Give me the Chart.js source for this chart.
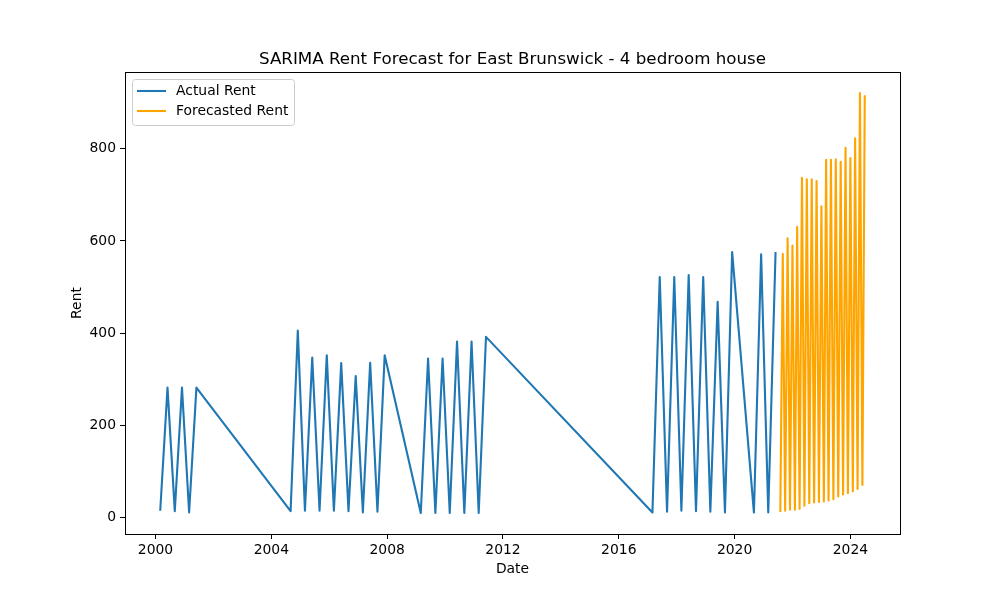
<!DOCTYPE html>
<html>
<head>
<meta charset="utf-8">
<script src="https://cdn.jsdelivr.net/npm/chart.js@4"></script>
<style>
  html, body { margin: 0; padding: 0; background: #fff; }
  #wrap { width: 1000px; height: 600px; }
</style>
</head>
<body>
<div id="wrap"><canvas id="rentChart" width="1000" height="600"></canvas></div>
<script>
// quarterly observed rent
const actualDates = [
    '2000-03-01', '2000-06-01', '2000-09-01', '2000-12-01', '2001-03-01', '2001-06-01',
    '2004-09-01', '2004-12-01', '2005-03-01', '2005-06-01', '2005-09-01', '2005-12-01',
    '2006-03-01', '2006-06-01', '2006-09-01', '2006-12-01', '2007-03-01', '2007-06-01',
    '2007-09-01', '2007-12-01', '2009-03-01', '2009-06-01', '2009-09-01', '2009-12-01',
    '2010-03-01', '2010-06-01', '2010-09-01', '2010-12-01', '2011-03-01', '2011-06-01',
    '2017-03-01', '2017-06-01', '2017-09-01', '2017-12-01', '2018-03-01', '2018-06-01',
    '2018-09-01', '2018-12-01', '2019-03-01', '2019-06-01', '2019-09-01', '2019-12-01',
    '2020-09-01', '2020-12-01', '2021-03-01', '2021-06-01'
];
const actualRent = [
    15, 282, 14, 282, 11, 282,
    14, 406, 15, 347, 15, 352,
    15, 335, 14, 307, 11, 336,
    13, 352, 10, 345, 10, 345,
    10, 382, 10, 382, 10, 392,
    11, 522, 13, 522, 15, 526,
    14, 522, 13, 468, 11, 576,
    11, 571, 11, 576
];

// monthly SARIMA forecast (month end)
const forecastDates = [
    '2021-07-31', '2021-08-31', '2021-09-30', '2021-10-31', '2021-11-30', '2021-12-31',
    '2022-01-31', '2022-02-28', '2022-03-31', '2022-04-30', '2022-05-31', '2022-06-30',
    '2022-07-31', '2022-08-31', '2022-09-30', '2022-10-31', '2022-11-30', '2022-12-31',
    '2023-01-31', '2023-02-28', '2023-03-31', '2023-04-30', '2023-05-31', '2023-06-30',
    '2023-07-31', '2023-08-31', '2023-09-30', '2023-10-31', '2023-11-30', '2023-12-31',
    '2024-01-31', '2024-02-29', '2024-03-31', '2024-04-30', '2024-05-31', '2024-06-30'
];
const forecastRent = [
    12, 572, 15, 606, 17, 590,
    17, 631, 19, 737, 26, 734,
    31, 734, 33, 730, 34, 675,
    35, 776, 37, 776, 40, 777,
    46, 772, 50, 802, 53, 780,
    57, 823, 62, 921, 71, 916
];

const xTicks = [2000, 2004, 2008, 2012, 2016, 2020, 2024];
const yTicks = [0, 200, 400, 600, 800];

const titleText = 'SARIMA Rent Forecast for East Brunswick - 4 bedroom house';
const fontFam = '"DejaVu Sans", sans-serif';

// date string -> fractional year, like matplotlib's date axis
function toYear(s) {
    const d = new Date(s + 'T00:00:00Z');
    const y = d.getUTCFullYear();
    const start = Date.UTC(y, 0, 1);
    const end = Date.UTC(y + 1, 0, 1);
    return y + (d.getTime() - start) / (end - start);
}

function toPoints(dates, values) {
    return dates.map((d, i) => ({ x: toYear(d), y: values[i] }));
}

const actualPts = toPoints(actualDates, actualRent);
const forecastPts = toPoints(forecastDates, forecastRent);

// 5% margins, same as matplotlib autoscale
const allX = actualPts.concat(forecastPts).map(p => p.x);
const allY = actualRent.concat(forecastRent);
const xMin = Math.min(...allX), xMax = Math.max(...allX);
const yMin = Math.min(...allY), yMax = Math.max(...allY);
const xPad = (xMax - xMin) * 0.05, yPad = (yMax - yMin) * 0.05;

const mplDecor = {
    id: 'mplDecor',
    afterDraw(chart) {
        const ctx = chart.ctx;
        const a = chart.chartArea;
        ctx.save();
        // axes frame
        ctx.strokeStyle = '#000';
        ctx.lineWidth = 1;
        ctx.strokeRect(Math.round(a.left) + 0.5, Math.round(a.top) + 0.5,
            Math.round(a.right - a.left), Math.round(a.bottom - a.top));

        // title
        ctx.fillStyle = '#000';
        ctx.font = '16.7px ' + fontFam;
        ctx.textAlign = 'center';
        ctx.textBaseline = 'alphabetic';
        ctx.fillText(titleText, (a.left + a.right) / 2, a.top - 8);

        // axis labels
        ctx.font = '13.9px ' + fontFam;
        ctx.textBaseline = 'middle';
        ctx.fillText('Date', (a.left + a.right) / 2, 569);
        ctx.save();
        ctx.translate(77, (a.top + a.bottom) / 2);
        ctx.rotate(-Math.PI / 2);
        ctx.fillText('Rent', 0, 0);
        ctx.restore();

        // legend box, upper left inside axes
        const bx = a.left + 7.5, by = a.top + 7.5, bw = 162, bh = 46;
        ctx.beginPath();
        ctx.roundRect(bx, by, bw, bh, 3);
        ctx.fillStyle = 'rgba(255,255,255,0.8)';
        ctx.fill();
        ctx.strokeStyle = '#cccccc';
        ctx.stroke();
        ctx.textAlign = 'left';
        chart.data.datasets.forEach((ds, i) => {
            const ly = a.top + 19 + i * 20;
            ctx.beginPath();
            ctx.moveTo(a.left + 12, ly);
            ctx.lineTo(a.left + 41, ly);
            ctx.strokeStyle = ds.borderColor;
            ctx.lineWidth = 2.1;
            ctx.stroke();
            ctx.fillStyle = '#000';
            ctx.fillText(ds.label, a.left + 51, ly);
        });
        ctx.restore();
    }
};

const ctx = document.getElementById('rentChart');
new Chart(ctx, {
    type: 'line',
    plugins: [mplDecor],
    data: {
        datasets: [
            {
                label: 'Actual Rent',
                data: actualPts,
                borderColor: '#1f77b4',
                backgroundColor: '#1f77b4',
                borderWidth: 2.1,
                borderJoinStyle: 'round',
                pointRadius: 0,
                tension: 0,
            },
            {
                label: 'Forecasted Rent',
                data: forecastPts,
                borderColor: '#ffa500',
                backgroundColor: '#ffa500',
                borderWidth: 2.1,
                borderJoinStyle: 'round',
                pointRadius: 0,
                tension: 0,
            }
        ]
    },
    options: {
        responsive: false,
        animation: false,
        devicePixelRatio: 1,
        layout: {
            padding: { top: 72, right: 100, left: 0, bottom: 0 }
        },
        plugins: {
            legend: { display: false },
            title: { display: false },
            tooltip: { enabled: false },
        },
        scales: {
            x: {
                type: 'linear',
                min: xMin - xPad,
                max: xMax + xPad,
                afterBuildTicks: (scale) => { scale.ticks = xTicks.map(v => ({ value: v })); },
                afterFit: (scale) => { scale.height = 66; },
                grid: {
                    drawOnChartArea: false,
                    drawTicks: true,
                    tickLength: 5,
                    tickColor: '#000',
                },
                border: { display: true, color: '#000' },
                ticks: {
                    color: '#000',
                    padding: 3,
                    maxRotation: 0,
                    font: { family: fontFam, size: 13.9 },
                    callback: (v) => String(v),
                },
            },
            y: {
                type: 'linear',
                min: yMin - yPad,
                max: yMax + yPad,
                afterBuildTicks: (scale) => { scale.ticks = yTicks.map(v => ({ value: v })); },
                afterFit: (scale) => { scale.width = 125; },
                grid: {
                    drawOnChartArea: false,
                    drawTicks: true,
                    tickLength: 5,
                    tickColor: '#000',
                },
                border: { display: true, color: '#000' },
                ticks: {
                    color: '#000',
                    padding: 4,
                    font: { family: fontFam, size: 13.9 },
                    callback: (v) => String(v),
                },
            }
        }
    }
});
</script>
</body>
</html>
